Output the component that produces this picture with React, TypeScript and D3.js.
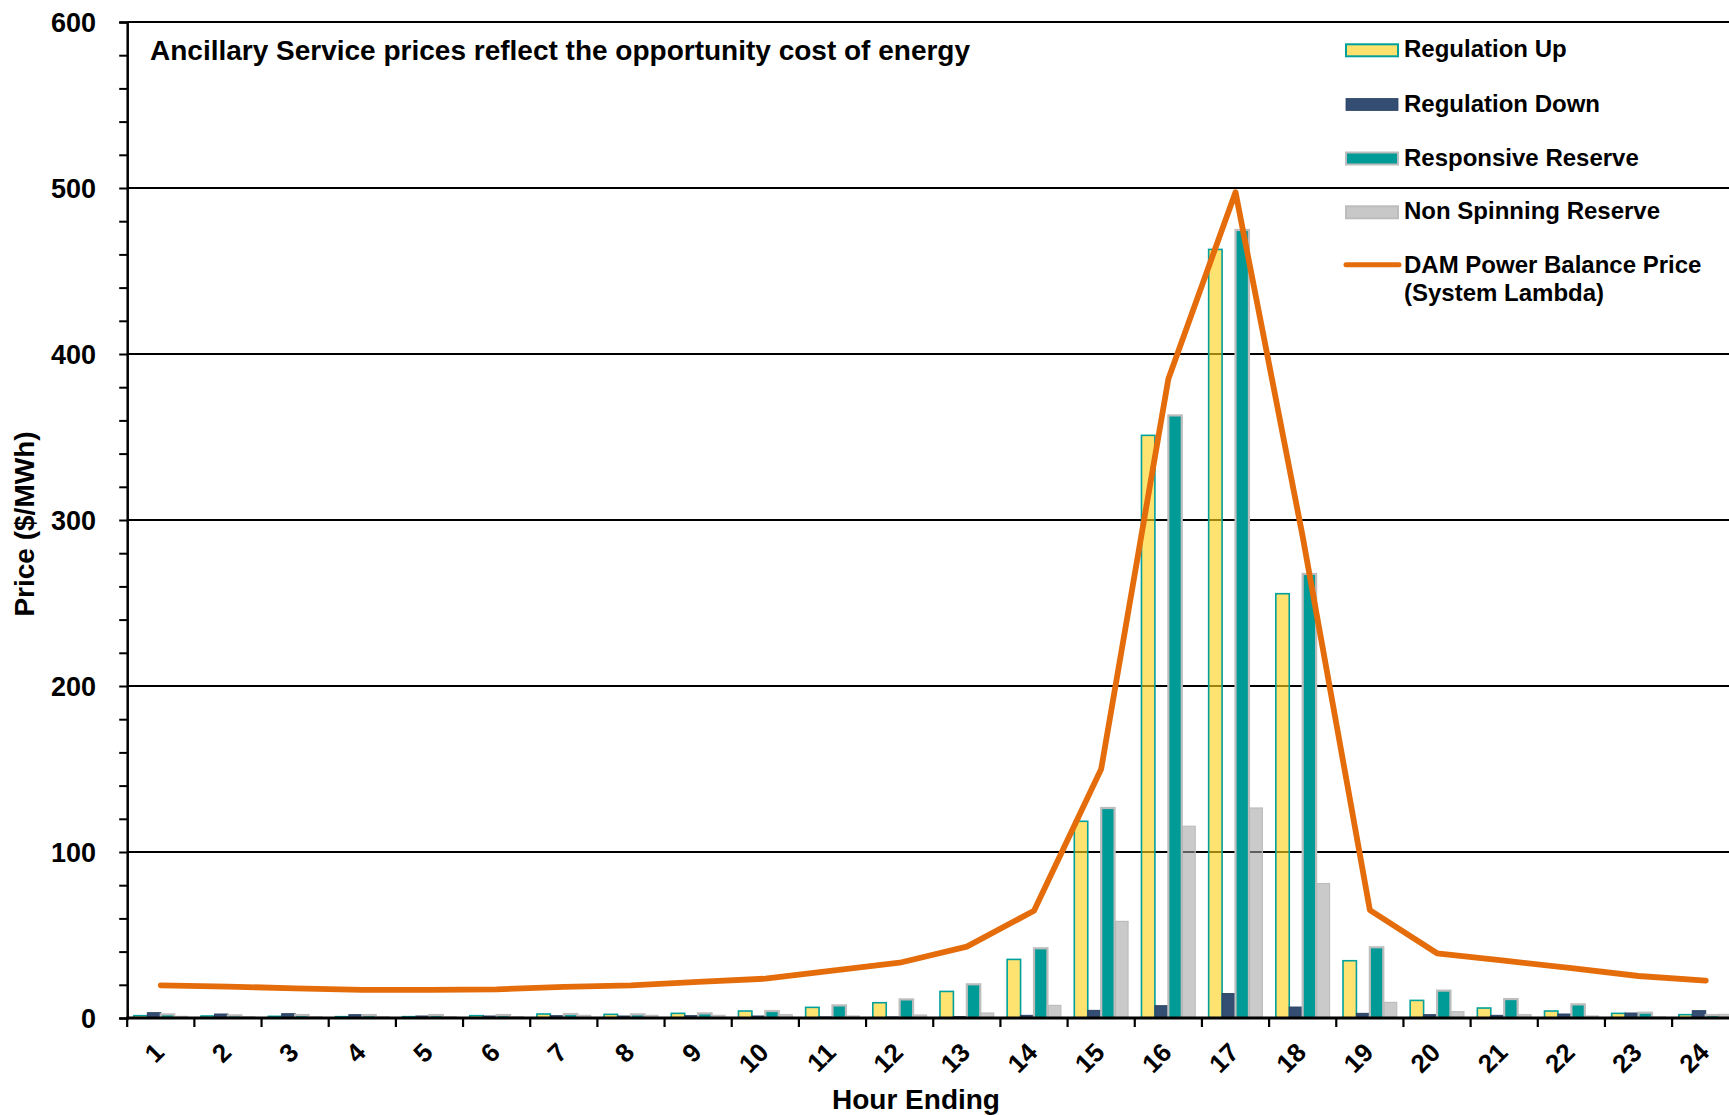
import { useEffect, useRef } from 'react'
import * as d3 from 'd3'

// Hour Ending categories
const hours = ['1', '2', '3', '4', '5', '6', '7', '8', '9', '10', '11', '12',
  '13', '14', '15', '16', '17', '18', '19', '20', '21', '22', '23', '24']

// $/MWh
const regUp = [1.4, 1.2, 1, 0.8, 0.8, 1.4, 2.4, 2.2, 2.8, 4.2, 6.4, 9.2,
  16, 35.3, 118.5, 351, 463, 255.6, 34.5, 10.6, 6, 4.2, 2.8, 2]
const regDown = [3.2, 2.4, 2.6, 2, 1.2, 1.2, 1.4, 1.2, 1.4, 1.2, 0.6, 0.6,
  0.8, 1.6, 4.6, 7.4, 14.7, 6.6, 2.8, 2, 1.6, 2.4, 3, 4.4]
const responsive = [2.2, 1.6, 1.8, 1.8, 1.8, 1.8, 2.4, 2.2, 2.8, 4.2, 7.6, 11.2,
  20.3, 42, 126.5, 363, 474.7, 267.5, 42.6, 16.5, 11.4, 8.2, 3.2, 1.8]
const nonSpin = [1, 0.8, 0.8, 0.8, 0.8, 0.8, 1.6, 1.6, 1.6, 2, 1.2, 1.8,
  3, 7.6, 58.2, 115.5, 126.5, 81, 9.4, 3.8, 2, 1.2, 0.6, 2.2]
const lambda = [19.7, 18.9, 17.9, 16.9, 16.9, 17.3, 18.7, 19.6, 21.7, 23.7, 28.5, 33.3,
  43, 64.6, 150, 385, 497.5, 290, 65, 39, 34.5, 30, 25.3, 22.5]

const yTicks = [0, 100, 200, 300, 400, 500, 600]
const seriesNames = ['Regulation Up', 'Regulation Down', 'Responsive Reserve', 'Non Spinning Reserve']

const FONT = '"Liberation Sans", Arial, sans-serif'

const barStyles = [
  { fill: '#FFD21A', opacity: 0.62, stroke: '#00A09C', strokeWidth: 1.6, legendFill: '#FFE26E' },
  { fill: '#334E72', opacity: 1, stroke: '#2B4363', strokeWidth: 1, legendFill: '#334E72' },
  { fill: '#009A97', opacity: 1, stroke: '#BDBDBD', strokeWidth: 2.2, legendFill: '#009A97' },
  { fill: '#A4A4A4', opacity: 0.58, stroke: '#BDBDBD', strokeWidth: 1.2, legendFill: '#C8C8C8' },
]

export default function App() {
  const svgRef = useRef<SVGSVGElement>(null)
  const width = 1729
  const height = 1115

  useEffect(() => {
    if (!svgRef.current) return
    const svg = d3.select(svgRef.current)
    svg.selectAll('*').remove()

    const left = 127.2
    const right = 1739.3
    const top = 22
    const bottom = 1018

    const x = d3.scaleBand().domain(hours).range([left, right]).padding(0)
    const y = d3.scaleLinear().domain([0, 600]).range([bottom, top])
    const sub = d3.scaleBand().domain(seriesNames).range([0, x.bandwidth()])
      .paddingInner(0).paddingOuter(0.5)

    // gridlines (incl. top frame at 600)
    svg.append('g')
      .selectAll('line')
      .data(yTicks.filter(d => d > 0))
      .join('line')
      .attr('x1', left).attr('x2', right)
      .attr('y1', d => y(d)).attr('y2', d => y(d))
      .attr('stroke', '#000').attr('stroke-width', 2.2)

    // bars
    const allSeries = [regUp, regDown, responsive, nonSpin]
    allSeries.forEach((vals, si) => {
      const st = barStyles[si]
      svg.append('g')
        .selectAll('rect')
        .data(vals)
        .join('rect')
        .attr('x', (_, i) => (x(hours[i]) ?? 0) + (sub(seriesNames[si]) ?? 0))
        .attr('y', d => y(d))
        .attr('width', sub.bandwidth())
        .attr('height', d => bottom - y(d))
        .attr('fill', st.fill)
        .attr('fill-opacity', st.opacity)
        .attr('stroke', st.stroke)
        .attr('stroke-width', st.strokeWidth)
    })

    // left axis
    const yAxis = d3.axisLeft(y)
      .tickValues(d3.range(0, 601, 20))
      .tickSize(8)
      .tickFormat(() => '')
    const gy = svg.append('g').attr('transform', `translate(${left},0)`).call(yAxis)
    gy.select('.domain').attr('stroke', '#000').attr('stroke-width', 2.5)
    gy.selectAll('.tick line').attr('stroke', '#000').attr('stroke-width', 2)

    svg.append('g')
      .selectAll('text')
      .data(yTicks)
      .join('text')
      .attr('x', 96)
      .attr('y', d => y(d))
      .attr('dy', '0.36em')
      .attr('text-anchor', 'end')
      .attr('font-family', FONT)
      .attr('font-weight', 'bold')
      .attr('font-size', 27)
      .text(d => String(d))

    // bottom axis
    svg.append('line')
      .attr('x1', left - 1).attr('x2', right)
      .attr('y1', bottom).attr('y2', bottom)
      .attr('stroke', '#000').attr('stroke-width', 3)
    svg.append('g')
      .selectAll('line')
      .data(hours)
      .join('line')
      .attr('x1', d => x(d) ?? 0).attr('x2', d => x(d) ?? 0)
      .attr('y1', bottom).attr('y2', bottom + 9)
      .attr('stroke', '#000').attr('stroke-width', 2.2)

    svg.append('g')
      .selectAll('text')
      .data(hours)
      .join('text')
      .attr('transform', d => `translate(${(x(d) ?? 0) + x.bandwidth() / 2 + 5},${1054}) rotate(-45)`)
      .attr('text-anchor', 'end')
      .attr('font-family', FONT)
      .attr('font-weight', 'bold')
      .attr('font-size', 26)
      .text(d => d)

    // DAM line
    const line = d3.line<number>()
      .x((_, i) => (x(hours[i]) ?? 0) + x.bandwidth() / 2)
      .y(d => y(d))
    svg.append('path')
      .datum(lambda)
      .attr('d', line)
      .attr('fill', 'none')
      .attr('stroke', '#E46C0A')
      .attr('stroke-width', 5.8)
      .attr('stroke-linejoin', 'round')
      .attr('stroke-linecap', 'round')

    // title
    svg.append('text')
      .attr('x', 150).attr('y', 60)
      .attr('font-family', FONT)
      .attr('font-weight', 'bold')
      .attr('font-size', 28)
      .text('Ancillary Service prices reflect the opportunity cost of energy')

    // axis titles
    svg.append('text')
      .attr('transform', 'translate(34,524) rotate(-90)')
      .attr('text-anchor', 'middle')
      .attr('font-family', FONT)
      .attr('font-weight', 'bold')
      .attr('font-size', 28)
      .text('Price ($/MWh)')
    svg.append('text')
      .attr('x', 916).attr('y', 1109)
      .attr('text-anchor', 'middle')
      .attr('font-family', FONT)
      .attr('font-weight', 'bold')
      .attr('font-size', 28)
      .text('Hour Ending')

    // legend
    const lg = svg.append('g')
    const lx = 1346
    const baselines = [57.3, 111.5, 165.5, 219.3, 272.7]
    seriesNames.forEach((name, i) => {
      const st = barStyles[i]
      lg.append('rect')
        .attr('x', lx).attr('y', baselines[i] - 13)
        .attr('width', 52).attr('height', 12)
        .attr('fill', st.legendFill)
        .attr('stroke', st.stroke)
        .attr('stroke-width', i === 1 ? 0.8 : 2)
      lg.append('text')
        .attr('x', 1404).attr('y', baselines[i])
        .attr('font-family', FONT)
        .attr('font-weight', 'bold')
        .attr('font-size', 24)
        .text(name)
    })
    lg.append('line')
      .attr('x1', lx).attr('x2', lx + 53)
      .attr('y1', baselines[4] - 8).attr('y2', baselines[4] - 8)
      .attr('stroke', '#E46C0A').attr('stroke-width', 5).attr('stroke-linecap', 'round')
    lg.append('text')
      .attr('x', 1404).attr('y', baselines[4])
      .attr('font-family', FONT).attr('font-weight', 'bold').attr('font-size', 24)
      .text('DAM Power Balance Price')
    lg.append('text')
      .attr('x', 1404).attr('y', baselines[4] + 28)
      .attr('font-family', FONT).attr('font-weight', 'bold').attr('font-size', 24)
      .text('(System Lambda)')
  }, [])

  return (
    <svg
      ref={svgRef}
      width={width}
      height={height}
      style={{ position: 'absolute', left: 0, top: 0, background: '#fff' }}
    />
  )
}
